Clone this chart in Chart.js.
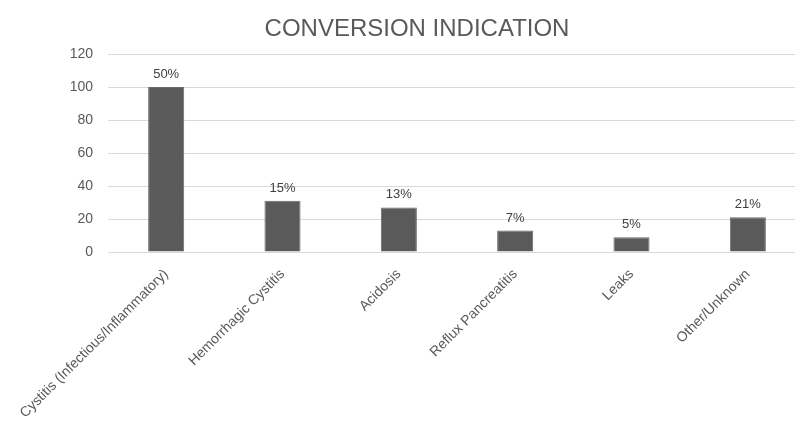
<!DOCTYPE html>
<html>
<head>
<meta charset="utf-8">
<title>Conversion Indication</title>
<script src="https://cdn.jsdelivr.net/npm/chart.js@4.4.0/dist/chart.umd.min.js"></script>
<style>
html, body { margin: 0; padding: 0; background: #fff; overflow: hidden; }
#wrap { width: 806px; height: 422px; }
</style>
</head>
<body>
<div id="wrap"><canvas id="conversionChart" width="806" height="422"></canvas></div>
<script>
const chartTitle = 'CONVERSION INDICATION';
const categories = [
  'Cystitis (Infectious/Inflammatory)',
  'Hemorrhagic Cystitis',
  'Acidosis',
  'Reflux Pancreatitis',
  'Leaks',
  'Other/Unknown'
];
const counts = [100, 31, 27, 13, 9, 21];
const shareLabels = ['50%', '15%', '13%', '7%', '5%', '21%'];
const yMin = 0;
const yMax = 120;
const yStep = 20;

const textColor = '#595959';
const fontFamily = '"Liberation Sans", Arial, sans-serif';

// percentage text above each bar
const shareLabelPlugin = {
  id: 'shareLabels',
  afterDatasetsDraw(chart) {
    const ctx = chart.ctx;
    const meta = chart.getDatasetMeta(0);
    ctx.save();
    ctx.font = '13px ' + fontFamily;
    ctx.fillStyle = '#404040';
    ctx.textAlign = 'center';
    ctx.textBaseline = 'alphabetic';
    meta.data.forEach((bar, i) => {
      ctx.fillText(shareLabels[i], bar.x, bar.y - 9);
    });
    ctx.restore();
  }
};

// title sits a bit right of the canvas centre
const titlePlugin = {
  id: 'chartHeading',
  afterDraw(chart) {
    const ctx = chart.ctx;
    ctx.save();
    ctx.font = '24px ' + fontFamily;
    ctx.fillStyle = textColor;
    ctx.textAlign = 'center';
    ctx.textBaseline = 'alphabetic';
    ctx.fillText(chartTitle, 417, 36);
    ctx.restore();
  }
};

const ctx = document.getElementById('conversionChart').getContext('2d');
new Chart(ctx, {
  type: 'bar',
  data: {
    labels: categories,
    datasets: [{
      data: counts,
      backgroundColor: '#5a5a5a',
      borderColor: '#6a6a6a',
      borderWidth: 1,
      barPercentage: 0.31,
      categoryPercentage: 1
    }]
  },
  options: {
    responsive: false,
    animation: false,
    layout: { padding: { top: 54, left: 0, right: 0, bottom: 0 } },
    plugins: {
      legend: { display: false },
      tooltip: { enabled: false },
      title: { display: false }
    },
    scales: {
      x: {
        grid: { display: false },
        border: { display: false },
        ticks: {
          autoSkip: false,
          minRotation: 45,
          maxRotation: 45,
          padding: 6,
          color: textColor,
          font: { family: fontFamily, size: 14 }
        },
        afterFit(scale) {
          scale.height = 170;
          scale.paddingLeft = 0;
          scale.paddingRight = 0;
        }
      },
      y: {
        min: yMin,
        max: yMax,
        border: { display: false },
        grid: { color: '#d9d9d9', lineWidth: 1, drawTicks: false },
        ticks: {
          stepSize: yStep,
          padding: 15,
          color: textColor,
          font: { family: fontFamily, size: 14 }
        },
        afterFit(scale) {
          scale.width = 108;
        }
      }
    }
  },
  plugins: [shareLabelPlugin, titlePlugin]
});
</script>
</body>
</html>
